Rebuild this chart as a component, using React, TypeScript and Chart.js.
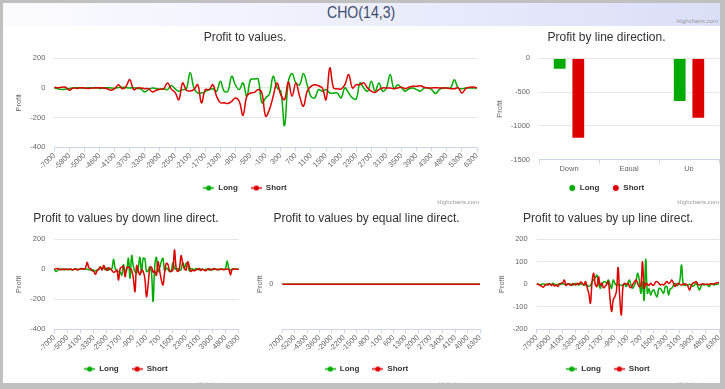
import React, { useEffect, useRef } from 'react';
import { Chart, registerables } from 'chart.js';

Chart.register(...registerables);

const FONT = '"Lucida Grande", "Lucida Sans Unicode", Arial, Helvetica, sans-serif';
Chart.defaults.font.family = FONT;

const LONG_COLOR = '#00aa00';
const SHORT_COLOR = '#dd0000';

// ---------- data ----------
const CATEGORIES = [
  '-7000', '-6700', '-6400', '-6100', '-5800', '-5600', '-5400', '-5200', '-5000', '-4900',
  '-4800', '-4700', '-4600', '-4500', '-4300', '-4200', '-4100', '-4000', '-3900', '-3800',
  '-3700', '-3600', '-3500', '-3400', '-3300', '-3200', '-3100', '-3000', '-2900', '-2800',
  '-2700', '-2600', '-2500', '-2400', '-2300', '-2200', '-2100', '-2000', '-1900', '-1800',
  '-1700', '-1600', '-1500', '-1400', '-1300', '-1200', '-1100', '-1000', '-900', '-800',
  '-700', '-600', '-500', '-400', '-300', '-200', '-100', '0', '100', '200',
  '300', '400', '500', '600', '700', '800', '900', '1000', '1100', '1200',
  '1300', '1400', '1500', '1600', '1700', '1800', '1900', '2000', '2100', '2200',
  '2300', '2400', '2500', '2600', '2700', '2800', '2900', '3000', '3100', '3200',
  '3300', '3400', '3500', '3600', '3700', '3800', '3900', '4000', '4100', '4200',
  '4300', '4400', '4600', '4700', '4800', '4900', '5000', '5200', '5300', '5500',
  '5800', '6000', '6300',
];

const ALL_LONG = [
  0, -5, -11, -8, -3, 0, 2, 0, -2, 2,
  0, 3, -3, 0, 2, 0, -2, 3, 5, 2,
  0, 2, -3, -8, -27, -10, 0, -5, -8, -5,
  -11, 16, -5, -22, -11, -5, 105, 0, -34, -34,
  -25, -11, -5, -22, 45, -22, -22, 79, 20, -11,
  34, -56, 56, 60, 60, -100, -67, -40, 79, 0,
  -20, -254, 40, 97, 34, 22, 97, 22, -56, -67,
  -11, -22, -11, -34, -34, -34, -67, 0, -34, -67,
  -74, 34, 0, -22, 45, -22, 34, -22, 0, 90,
  -5, 22, 0, -22, -5, 0, -11, -22, 0, 0,
  -11, -38, -11, 0, 0, 0, 56, 0, -5, 0,
  0, 0, 0,
];
const ALL_SHORT = [
  4, 2, 5, 5, -15, 0, -3, 2, 0, -3,
  0, 0, 2, 0, -5, -15, -5, 22, -5, 10,
  56, -11, 0, 0, -5, -5, -27, -15, -8, -5,
  34, -8, -30, -79, 34, -15, -20, -11, 22, -100,
  -11, -11, 22, -56, -100, -100, -105, -90, -67, -90,
  -184, -56, -34, -30, -11, -34, -190, -145, -56, 34,
  -45, -79, 40, -56, 34, -56, -123, -22, 11, 22,
  15, 0, -79, 135, 0, -5, -8, 22, 90, 0,
  22, 22, 34, 0, -22, -30, -11, 0, 0, 0,
  -5, 0, 5, -5, 5, 11, 11, 15, 5, 0,
  0, 2, 0, 0, 0, -5, -5, 0, -34, -5,
  5, 7, 0,
];

const DIR_CATEGORIES = ['Down', 'Equal', 'Up'];
const DIR_LONG = [-170, 0, -645];
const DIR_SHORT = [-1190, 0, -895];

const DOWN_LONG = [
  0, -15, -8, 0, 2, 0, -5, 0, 2, -3,
  0, -5, 0, 3, 0, -2, 5, 2, 0, 3,
  0, -3, -5, -2, -8, -11, -5, 3, 15, 5,
  10, -3, 8, -5, 2, 5, 67, 5, -5, -15,
  -18, -40, 30, -20, -5, 73, -60, 91, 20, -15,
  -25, 10, 80, -20, 73, 70, -15, -10, 18, -20,
  -215, 20, 80, -15, 10, 51, 73, -10, 8, 0,
  -15, -10, 45, 10, 0, 5, -5, -3, 45, 8,
  40, 40, -10, 5, 2, -5, 5, 0, -3, 2,
  0, -3, 0, 2, -5, 0, -3, 0, 2, 0,
  -3, 0, 2, 0, 5, 56, 5, -5, 0, 2,
  0, 0, 0,
];
const DOWN_SHORT = [
  0, 3, 5, 0, -3, 0, 2, 0, -2, 0,
  2, -3, 0, 2, -5, 0, 3, 5, 0, 10,
  47, 10, 5, -10, -15, -33, -10, 0, 15, -5,
  25, 5, -8, 10, 2, -8, -20, -15, -5, -71,
  5, 15, 20, -50, 10, 15, 5, -8, -60, -149,
  25, -10, -38, -5, -15, -60, -182, -100, 5, 15,
  -20, -10, -40, 51, -10, -71, -104, -20, 40, 33,
  -10, -15, -5, 129, 10, -15, 5, 91, 40, 5,
  -5, 50, 20, -15, -5, -10, -5, 0, 5, -8,
  0, -5, -10, 0, 3, -5, 0, 5, 0, -3,
  0, 2, 0, -3, 0, 2, 0, -38, 0, 2,
  0, 0, 0,
];

const EQUAL_LONG = [
  0, 0, 0, 0, 0, 0, 0, 0, 0, 0,
  0, 0, 0, 0, 0, 0, 0, 0, 0, 0,
  0, 0, 0, 0, 0, 0, 0, 0, 0, 0,
  0, 0, 0, 0, 0, 0, 0, 0, 0, 0,
  0, 0, 0, 0, 0, 0, 0, 0, 0, 0,
  0, 0, 0, 0, 0, 0, 0, 0, 0, 0,
  0, 0, 0, 0, 0, 0, 0, 0, 0, 0,
  0, 0, 0, 0, 0, 0, 0, 0, 0, 0,
  0, 0, 0, 0, 0, 0, 0, 0, 0, 0,
  0, 0, 0, 0, 0, 0, 0, 0, 0, 0,
  0, 0, 0, 0, 0, 0, 0, 0, 0, 0,
  0, 0, 0,
];
const EQUAL_SHORT = [
  0, 0, 0, 0, 0, 0, 0, 0, 0, 0,
  0, 0, 0, 0, 0, 0, 0, 0, 0, 0,
  0, 0, 0, 0, 0, 0, 0, 0, 0, 0,
  0, 0, 0, 0, 0, 0, 0, 0, 0, 0,
  0, 0, 0, 0, 0, 0, 0, 0, 0, 0,
  0, 0, 0, 0, 0, 0, 0, 0, 0, 0,
  0, 0, 0, 0, 0, 0, 0, 0, 0, 0,
  0, 0, 0, 0, 0, 0, 0, 0, 0, 0,
  0, 0, 0, 0, 0, 0, 0, 0, 0, 0,
  0, 0, 0, 0, 0, 0, 0, 0, 0, 0,
  0, 0, 0, 0, 0, 0, 0, 0, 0, 0,
  0, 0, 0,
];

const UP_LONG = [
  0, 0, -3, 0, 2, 0, -3, 3, 0, -2,
  5, 0, -3, 0, 2, 0, 3, 0, -2, 0,
  3, 0, -5, 0, 5, 0, -3, 2, 0, -3,
  -3, -5, -10, -5, 10, 20, 30, 41, 5, -18,
  0, 10, 12, 5, 19, 0, -18, 19, 5, -5,
  0, -3, -5, -3, 0, -10, 5, 19, -5, -18,
  -5, 12, 49, 20, -40, 10, -70, 111, -40, -20,
  -47, -30, -25, -45, -55, -20, -18, -30, -40, -10,
  -10, -47, -20, -18, -5, 5, -5, -3, 20, 86,
  0, -5, -3, -3, 0, -5, -10, -3, 5, -10,
  -25, -8, 0, -3, 0, -5, -10, 0, 2, -3,
  0, 0, 3,
];
const UP_SHORT = [
  2, 0, -5, -8, -13, -5, 0, -3, 3, -5,
  0, -8, -3, -10, 0, 5, 8, 19, -5, 3,
  0, -5, 3, 0, -3, 5, 0, 10, 5, -3,
  12, -15, -40, -84, 10, 49, 0, -10, 34, -5,
  5, -15, -10, 0, 12, -60, -121, -70, -55, -30,
  75, -55, -136, -10, 5, 0, 5, -10, -15, 0,
  10, 19, 5, -10, -5, 100, -18, 5, 0, -5,
  5, -3, -3, 10, 12, 5, -3, 0, -3, 5,
  12, 5, 8, 19, 5, -10, 0, 5, 0, -3,
  0, 3, 0, -10, -25, -5, 5, 8, 12, 0,
  -3, 0, 2, 0, 0, 0, 0, 3, 0, 2,
  5, 7, 8,
];

// ---------- helpers ----------
function legendLine(color: string) {
  const c = document.createElement('canvas');
  c.width = 11;
  c.height = 7;
  const g = c.getContext('2d') as CanvasRenderingContext2D;
  g.strokeStyle = color;
  g.lineWidth = 1.5;
  g.beginPath();
  g.moveTo(0, 3.5);
  g.lineTo(11, 3.5);
  g.stroke();
  g.fillStyle = color;
  g.beginPath();
  g.arc(5.5, 3.5, 2.6, 0, Math.PI * 2);
  g.fill();
  return c;
}

const titleOpts = (text: string) => ({
  display: true,
  text,
  color: '#333333',
  font: { family: FONT, size: 12, weight: 'normal' },
  padding: { top: 4, bottom: 13.9 },
});

const legendOpts = (extra: any) => ({
  display: true,
  position: 'bottom',
  labels: {
    color: '#333333',
    font: { family: FONT, size: 8, weight: 'bold' },
    usePointStyle: true,
    padding: 13,
    sort: (a: any, b: any) => a.datasetIndex - b.datasetIndex,
    ...extra,
  },
});

const tickFont = { family: FONT, size: 7.5 };

function lineConfig(spec: any) {
  return {
    type: 'line',
    data: {
      labels: spec.categories,
      datasets: [
        {
          label: 'Long',
          data: spec.long,
          borderColor: LONG_COLOR,
          backgroundColor: LONG_COLOR,
          borderWidth: 1.5,
          pointRadius: 0,
          pointHoverRadius: 0,
          tension: 0.4,
          pointStyle: legendLine(LONG_COLOR),
          order: 1,
        },
        {
          label: 'Short',
          data: spec.short,
          borderColor: SHORT_COLOR,
          backgroundColor: SHORT_COLOR,
          borderWidth: 1.5,
          pointRadius: 0,
          pointHoverRadius: 0,
          tension: 0.4,
          pointStyle: legendLine(SHORT_COLOR),
          order: 0,
        },
      ],
    },
    options: {
      responsive: false,
      animation: false,
      events: [],
      layout: { padding: { left: 10, right: spec.padR, top: 0, bottom: 4 } },
      plugins: {
        title: titleOpts(spec.title),
        legend: legendOpts({ pointStyleWidth: 11, boxHeight: 6 }),
        tooltip: { enabled: false },
      },
      scales: {
        x: {
          type: 'category',
          offset: false,
          grid: { display: true, drawOnChartArea: false, drawTicks: true, tickLength: 4, color: '#ccd6eb' },
          border: { display: true, color: '#ccd6eb' },
          ticks: {
            autoSkip: false,
            minRotation: 45,
            maxRotation: 45,
            padding: 0,
            color: '#666666',
            font: tickFont,
            callback: function (this: any, value: any, index: number) {
              return index % spec.labelEvery === 0 ? this.getLabelForValue(value) : null;
            },
          },
          afterFit: (s: any) => { s.height = spec.xAxisHeight; },
        },
        y: {
          min: spec.yMin,
          max: spec.yMax,
          grid: { color: '#e6e6e6', drawTicks: false },
          border: { display: false },
          ticks: {
            stepSize: spec.yStep,
            padding: 9,
            color: '#666666',
            font: tickFont,
            callback: spec.yCallback || ((v: any) => String(v)),
          },
          title: {
            display: true,
            text: 'Profit',
            color: '#666666',
            font: tickFont,
            padding: { top: spec.yTitlePad, bottom: 0 },
          },
          afterFit: (s: any) => { s.width = spec.axisWidth; },
        },
      },
    },
  };
}

function barConfig() {
  return {
    type: 'bar',
    data: {
      labels: DIR_CATEGORIES,
      datasets: [
        {
          label: 'Long',
          data: DIR_LONG,
          backgroundColor: LONG_COLOR,
          borderColor: '#ffffff',
          borderWidth: 1,
          categoryPercentage: 0.62,
          barPercentage: 0.74,
        },
        {
          label: 'Short',
          data: DIR_SHORT,
          backgroundColor: SHORT_COLOR,
          borderColor: '#ffffff',
          borderWidth: 1,
          categoryPercentage: 0.62,
          barPercentage: 0.74,
        },
      ],
    },
    options: {
      responsive: false,
      animation: false,
      events: [],
      layout: { padding: { left: 10, right: 11, top: 0, bottom: 4 } },
      plugins: {
        title: titleOpts('Profit by line direction.'),
        legend: legendOpts({ pointStyle: 'circle', boxWidth: 7, boxHeight: 5 }),
        tooltip: { enabled: false },
      },
      scales: {
        x: {
          grid: { display: true, offset: true, drawOnChartArea: false, drawTicks: true, tickLength: 4, color: '#ccd6eb' },
          border: { display: true, color: '#ccd6eb' },
          ticks: { padding: 1, color: '#666666', font: tickFont },
          afterFit: (s: any) => { s.height = 11.3; },
        },
        y: {
          min: -1500,
          max: 0,
          grid: { color: '#e6e6e6', drawTicks: false },
          border: { display: false },
          ticks: { stepSize: 500, padding: 9, color: '#666666', font: tickFont, callback: (v: any) => String(v) },
          title: { display: true, text: 'Profit', color: '#666666', font: tickFont, padding: { top: 1, bottom: 0 } },
          afterFit: (s: any) => { s.width = 45; },
        },
      },
    },
  };
}

function ChartCanvas(props: { make: () => any; left: number; top: number; width: number; height: number }) {
  const ref = useRef<HTMLCanvasElement | null>(null);
  useEffect(() => {
    const chart = new Chart(ref.current as HTMLCanvasElement, props.make());
    return () => chart.destroy();
  }, []);
  return (
    <canvas
      ref={ref}
      width={props.width}
      height={props.height}
      style={{ position: 'absolute', left: props.left, top: props.top, width: props.width, height: props.height }}
    />
  );
}

const creditStyle = (right: number, top: number): React.CSSProperties => ({
  position: 'absolute',
  right: 725 - right,
  top,
  fontFamily: FONT,
  fontSize: 6,
  lineHeight: '7px',
  color: '#999999',
  whiteSpace: 'nowrap',
});

export default function App() {
  return (
    <div style={{ position: 'fixed', left: 0, top: 0, width: 725, height: 389, background: '#c0c0c0', overflow: 'hidden' }}>
      <div style={{ position: 'absolute', left: 3, top: 26, width: 717, height: 357, background: '#ffffff' }} />
      <div
        style={{
          position: 'absolute',
          left: 3,
          top: 3,
          width: 717,
          height: 23,
          background: 'linear-gradient(to right, #fbfbff 0%, #eceefc 50%, #dadef7 100%)',
        }}
      >
        <div style={{ position: 'absolute', left: 0, top: 1, width: 717, textAlign: 'center', fontFamily: FONT, fontSize: 17, lineHeight: '18px', color: '#3d4b6b' }}>
          <span style={{ display: 'inline-block', transform: 'scaleX(0.83)' }}>CHO(14,3)</span>
        </div>
      </div>
      <div style={creditStyle(718, 17.5)}>Highcharts.com</div>

      <ChartCanvas
        left={3}
        top={26}
        width={484}
        height={180}
        make={() => lineConfig({
          title: 'Profit to values.', categories: CATEGORIES, long: ALL_LONG, short: ALL_SHORT,
          yMin: -400, yMax: 200, yStep: 200, labelEvery: 4, axisWidth: 41.3, xAxisHeight: 23.7, padR: 10, yTitlePad: 1,
        })}
      />
      <ChartCanvas left={484} top={26} width={246} height={180} make={barConfig} />

      <ChartCanvas
        left={3}
        top={207}
        width={246}
        height={180}
        make={() => lineConfig({
          title: 'Profit to values by down line direct.', categories: CATEGORIES, long: DOWN_LONG, short: DOWN_SHORT,
          yMin: -400, yMax: 200, yStep: 200, labelEvery: 8, axisWidth: 41.3, xAxisHeight: 22.7, padR: 10.3, yTitlePad: 1,
        })}
      />
      <ChartCanvas
        left={243}
        top={207}
        width={247}
        height={180}
        make={() => lineConfig({
          title: 'Profit to values by equal line direct.', categories: CATEGORIES, long: EQUAL_LONG, short: EQUAL_SHORT,
          yMin: -1, yMax: 1, yStep: 1, labelEvery: 7, axisWidth: 29.3, xAxisHeight: 22.7, padR: 10, yTitlePad: 2.5,
          yCallback: (v: any) => (v === 0 ? '0' : null),
        })}
      />
      <ChartCanvas
        left={487}
        top={207}
        width={242}
        height={180}
        make={() => lineConfig({
          title: 'Profit to values by up line direct.', categories: CATEGORIES, long: UP_LONG, short: UP_SHORT,
          yMin: -200, yMax: 200, yStep: 100, labelEvery: 8, axisWidth: 39.7, xAxisHeight: 22.7, padR: 10, yTitlePad: 0.5,
        })}
      />

      <div style={creditStyle(479, 198.5)}>Highcharts.com</div>
      <div style={creditStyle(719, 198.5)}>Highcharts.com</div>
      <div style={creditStyle(239, 380.5)}>Highcharts.com</div>
      <div style={creditStyle(480, 380.5)}>Highcharts.com</div>
      <div style={creditStyle(719, 380.5)}>Highcharts.com</div>

      <div style={{ position: 'absolute', left: 720, top: 0, width: 5, height: 389, background: '#c0c0c0' }} />
      <div style={{ position: 'absolute', left: 0, top: 383, width: 725, height: 6, background: '#c0c0c0' }} />
    </div>
  );
}
